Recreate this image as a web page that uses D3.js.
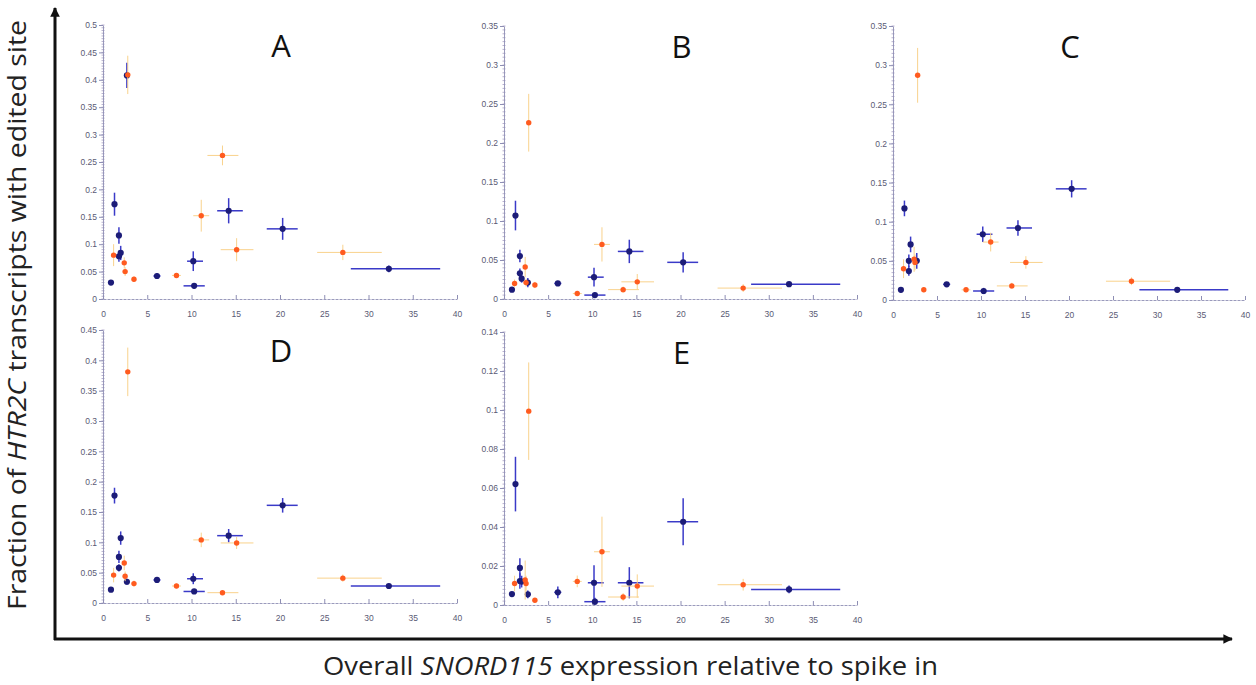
<!DOCTYPE html>
<html>
<head>
<meta charset="utf-8">
<script src="https://cdn.jsdelivr.net/npm/d3@7"></script>
<style>
  body { margin: 0; background: #fff; }
  svg { display: block; }
</style>
</head>
<body>
<svg id="chart"></svg>
<script>
// shared x values (SNORD115 expression) and their error ranges
const blueX   = [0.9, 1.3, 1.8, 1.8, 2.0, 2.7, 6.1, 10.2, 10.3, 14.2, 20.3, 32.3];
const blueXLo = [0.7, 1.1, 1.6, 1.6, 1.8, 2.4, 5.7, 9.5, 9.1, 12.9, 18.5, 28.0];
const blueXHi = [1.1, 1.5, 2.0, 2.0, 2.2, 3.0, 6.5, 11.3, 11.5, 15.8, 22.0, 38.1];

const orangeX   = [1.2, 2.4, 2.5, 2.8, 3.5, 8.3, 11.1, 13.5, 15.1, 27.1];
const orangeXLo = [1.0, 2.2, 2.3, 2.6, 3.3, 7.8, 10.2, 11.8, 13.3, 24.2];
const orangeXHi = [1.4, 2.6, 2.7, 3.0, 3.7, 8.8, 12.0, 15.3, 17.0, 31.5];

// fraction edited, per panel
const blueA = [0.030, 0.173, 0.116, 0.078, 0.084, 0.408, 0.042, 0.069, 0.024, 0.161, 0.128, 0.055];
const blueAErr = [0.003, 0.021, 0.015, 0.010, 0.013, 0.023, 0.005, 0.018, 0.005, 0.023, 0.020, 0.006];
const orangeA = [0.080, 0.066, 0.050, 0.409, 0.036, 0.043, 0.152, 0.262, 0.090, 0.085];
const orangeAErr = [0.020, 0.010, 0.008, 0.035, 0.005, 0.004, 0.029, 0.018, 0.021, 0.014];

const blueB = [0.012, 0.107, 0.055, 0.033, 0.026, 0.021, 0.020, 0.028, 0.005, 0.061, 0.047, 0.019];
const blueBErr = [0.002, 0.019, 0.008, 0.006, 0.005, 0.006, 0.003, 0.012, 0.003, 0.015, 0.013, 0.002];
const orangeB = [0.020, 0.041, 0.021, 0.226, 0.018, 0.007, 0.070, 0.012, 0.022, 0.014];
const orangeBErr = [0.005, 0.013, 0.005, 0.037, 0.004, 0.002, 0.022, 0.004, 0.010, 0.005];

const blueC = [0.013, 0.117, 0.050, 0.037, 0.071, 0.050, 0.020, 0.084, 0.0115, 0.092, 0.142, 0.013];
const blueCErr = [0.002, 0.010, 0.008, 0.006, 0.010, 0.010, 0.003, 0.010, 0.004, 0.010, 0.011, 0.002];
const orangeC = [0.040, 0.052, 0.048, 0.287, 0.013, 0.013, 0.074, 0.018, 0.048, 0.024];
const orangeCErr = [0.012, 0.016, 0.010, 0.035, 0.003, 0.003, 0.012, 0.004, 0.008, 0.005];

const blueD = [0.022, 0.177, 0.076, 0.058, 0.107, 0.035, 0.038, 0.040, 0.019, 0.111, 0.161, 0.028];
const blueDErr = [0.003, 0.013, 0.010, 0.006, 0.011, 0.005, 0.005, 0.009, 0.004, 0.011, 0.012, 0.003];
const orangeD = [0.046, 0.066, 0.044, 0.381, 0.032, 0.028, 0.104, 0.017, 0.099, 0.041];
const orangeDErr = [0.012, 0.012, 0.008, 0.040, 0.005, 0.004, 0.012, 0.003, 0.010, 0.006];

const blueE = [0.0056, 0.062, 0.019, 0.0123, 0.012, 0.0055, 0.0065, 0.0114, 0.0017, 0.0114, 0.0427, 0.008];
const blueEErr = [0.001, 0.014, 0.005, 0.004, 0.003, 0.002, 0.003, 0.009, 0.002, 0.008, 0.012, 0.002];
const orangeE = [0.011, 0.0128, 0.011, 0.0994, 0.0024, 0.0121, 0.0273, 0.0041, 0.0097, 0.0104];
const orangeEErr = [0.004, 0.010, 0.004, 0.025, 0.001, 0.003, 0.018, 0.002, 0.006, 0.003];

const panelNames = ["A", "B", "C", "D", "E"];
const yMax  = [0.5, 0.35, 0.35, 0.45, 0.14];
const yStep = [0.05, 0.05, 0.05, 0.05, 0.02];
const xTicks = [0, 5, 10, 15, 20, 25, 30, 35, 40];

const xLabel = ["Overall ", "SNORD115", " expression relative to spike in"];
const yLabel = ["Fraction of ", "HTR2C", " transcripts with edited site"];

// panel placement (pixels)
const layout = [
  { x0: 103, x1: 457, y0: 299, y1: 25 },
  { x0: 504, x1: 857, y0: 299, y1: 26 },
  { x0: 893, x1: 1245, y0: 300, y1: 26 },
  { x0: 103, x1: 457, y0: 603, y1: 330 },
  { x0: 504, x1: 857, y0: 605, y1: 332 }
];

const series = [
  [blueA, blueAErr, orangeA, orangeAErr],
  [blueB, blueBErr, orangeB, orangeBErr],
  [blueC, blueCErr, orangeC, orangeCErr],
  [blueD, blueDErr, orangeD, orangeDErr],
  [blueE, blueEErr, orangeE, orangeEErr]
];

const width = 1256, height = 685;
const svg = d3.select("#chart").attr("width", width).attr("height", height);

const axisColor = "#8e8eb4";
const tickText = "#5a5a74";
const fmt = d => d === 0 ? "0" : String(+d.toFixed(2));

panelNames.forEach((name, i) => {
  const L = layout[i];
  const x = d3.scaleLinear().domain([0, 40]).range([L.x0, L.x1]);
  const y = d3.scaleLinear().domain([0, yMax[i]]).range([L.y0, L.y1]);
  const g = svg.append("g");

  const nMaj = Math.round(yMax[i] / yStep[i]);
  const yTicks = d3.range(nMaj + 1).map(k => +(k * yStep[i]).toFixed(4));
  const yMinor = d3.range(nMaj * 10 + 1).map(k => k * yStep[i] / 10);

  // minor ticks on y axis
  g.append("g").selectAll("line").data(yMinor).join("line")
    .attr("x1", L.x0 - 1.5).attr("x2", L.x0 + 1.5)
    .attr("y1", d => y(d)).attr("y2", d => y(d))
    .attr("stroke", "#a8a0c4").attr("stroke-width", 0.8);

  const yAxis = g.append("g")
    .attr("transform", `translate(${L.x0},0)`)
    .call(d3.axisLeft(y).tickValues(yTicks).tickFormat(fmt).tickSize(4).tickPadding(2).tickSizeOuter(0));
  yAxis.select(".domain").attr("stroke", axisColor).attr("stroke-width", 0.9);
  yAxis.selectAll(".tick line").attr("stroke", axisColor);
  yAxis.selectAll("text").attr("fill", tickText)
    .style("font-family", "Liberation Sans, Arial, sans-serif").style("font-size", "8.5px");

  const xAxis = g.append("g")
    .attr("transform", `translate(0,${L.y0})`)
    .call(d3.axisBottom(x).tickValues(xTicks).tickSize(-4).tickPadding(12).tickSizeOuter(0));
  xAxis.select(".domain").attr("stroke", axisColor).attr("stroke-width", 0.9)
    .attr("stroke-dasharray", "3,1");
  xAxis.selectAll(".tick line").attr("stroke", axisColor);
  xAxis.selectAll("text").attr("fill", tickText)
    .style("font-family", "Liberation Sans, Arial, sans-serif").style("font-size", "8.5px");

  // panel letter
  g.append("text")
    .attr("x", (x(0) + x(40)) / 2 + 1)
    .attr("y", L.y1 + 32)
    .attr("text-anchor", "middle")
    .style("font-family", "Open Sans, sans-serif")
    .style("font-size", "31px")
    .attr("fill", "#111")
    .text(name);

  const [bY, bE, oY, oE] = series[i];
  const blue = blueX.map((v, k) => ({ x: v, lo: blueXLo[k], hi: blueXHi[k], y: bY[k], e: bE[k] }));
  const orange = orangeX.map((v, k) => ({ x: v, lo: orangeXLo[k], hi: orangeXHi[k], y: oY[k], e: oE[k] }));

  function drawBars(data, color, sw) {
    const eg = g.append("g").attr("stroke", color).attr("stroke-width", sw);
    eg.selectAll("line.h").data(data).join("line").attr("class", "h")
      .attr("x1", d => x(d.lo)).attr("x2", d => x(d.hi))
      .attr("y1", d => y(d.y)).attr("y2", d => y(d.y));
    eg.selectAll("line.v").data(data).join("line").attr("class", "v")
      .attr("x1", d => x(d.x)).attr("x2", d => x(d.x))
      .attr("y1", d => y(Math.max(0, d.y - d.e))).attr("y2", d => y(d.y + d.e));
  }

  drawBars(blue, "#3a3ac8", 1.5);
  g.append("g").selectAll("circle").data(blue).join("circle")
    .attr("cx", d => x(d.x)).attr("cy", d => y(d.y)).attr("r", 3.1)
    .attr("fill", "#1c1c78");

  drawBars(orange, "#f9d28c", 1);
  g.append("g").selectAll("circle").data(orange).join("circle")
    .attr("cx", d => x(d.x)).attr("cy", d => y(d.y)).attr("r", 2.7)
    .attr("fill", "#ff5b1f");
});

// big frame arrows
const defs = svg.append("defs");
defs.append("marker").attr("id", "arr")
  .attr("viewBox", "0 0 10 10").attr("refX", 9).attr("refY", 5)
  .attr("markerWidth", 3.6).attr("markerHeight", 3.2).attr("orient", "auto")
  .append("path").attr("d", "M0,0 L10,5 L0,10 Z").attr("fill", "#111");

svg.append("line")
  .attr("x1", 55).attr("y1", 640).attr("x2", 55).attr("y2", 8)
  .attr("stroke", "#111").attr("stroke-width", 3).attr("marker-end", "url(#arr)");
svg.append("line")
  .attr("x1", 54).attr("y1", 639).attr("x2", 1232).attr("y2", 639)
  .attr("stroke", "#111").attr("stroke-width", 3).attr("marker-end", "url(#arr)");

// axis titles
const xt = svg.append("text")
  .attr("x", 323).attr("y", 675)
  .attr("textLength", 615).attr("lengthAdjust", "spacingAndGlyphs")
  .style("font-family", "Open Sans, sans-serif").style("font-size", "25px")
  .attr("fill", "#222");
xLabel.forEach((t, k) => xt.append("tspan").attr("font-style", k === 1 ? "italic" : "normal").text(t));

const yt = svg.append("text")
  .attr("transform", "translate(26,610) rotate(-90)")
  .attr("x", 0).attr("y", 0)
  .attr("textLength", 590).attr("lengthAdjust", "spacingAndGlyphs")
  .style("font-family", "Open Sans, sans-serif").style("font-size", "25px")
  .attr("fill", "#222");
yLabel.forEach((t, k) => yt.append("tspan").attr("font-style", k === 1 ? "italic" : "normal").text(t));
</script>
</body>
</html>
